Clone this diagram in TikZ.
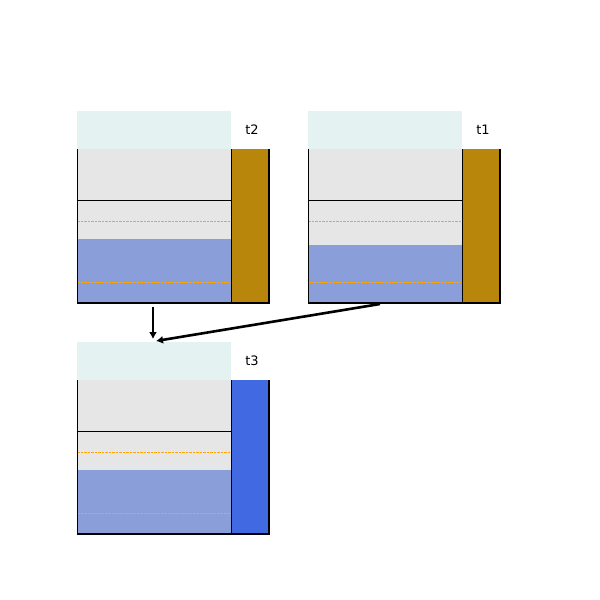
\documentclass[tikz,border=0pt]{standalone}
\usepackage{fontspec}
\setmainfont{DejaVu Sans}
\usetikzlibrary{arrows.meta}
\definecolor{topcyan}{HTML}{E4F2F2}
\definecolor{tankgray}{HTML}{E6E6E6}
\definecolor{water}{HTML}{8A9FD9}
\definecolor{gold}{HTML}{B8860B}
\definecolor{royal}{HTML}{4169E1}
\definecolor{orng}{HTML}{FFA500}
\tikzset{
  lvl/.style={line width=0.7pt, draw=orng, dash pattern=on 2.5pt off 1pt},
  edge/.style={line width=1pt, draw=black},
  flow/.style={line width=2.6pt, -{Latex[length=7pt,width=8pt]}},
  lab/.style={font=\fontsize{13}{15}\selectfont, inner sep=0pt},
}
% #1 x-left, #2 y-top (cyan top), #3 water top, #4 bar colour, #5 label, #6 name
\newcommand\drawtank[6]{%
  \begin{scope}[shift={(#1,#2)}]
    \fill[topcyan] (0,0) rectangle (154,38);
    \fill[tankgray] (0,38) rectangle (154,192);
    \fill[water] (0,#3) rectangle (154,192);
    \fill[#4] (154,38) rectangle (192,192);
    \draw[line width=0.8pt] (0,89) -- (154,89);
    \draw[lvl] (0,110) -- (154,110);
    \draw[lvl] (0,171) -- (154,171);
    \draw[edge] (0,38) -- (0,192);
    \draw[edge] (154,38) -- (154,192);
    \draw[line width=2.5pt] (192,38) -- (192,193);
    \draw[line width=1.5pt] (0,192) -- (193,192);
    \node[lab] (#6) at (175,19) {#5};
  \end{scope}}
\begin{document}
\begin{tikzpicture}[x=1pt,y=-1pt]
  \useasboundingbox (0,0) rectangle (600,600);
  \drawtank{77}{111}{128}{gold}{t2}{lt2}
  \drawtank{308}{111}{134}{gold}{t1}{lt1}
  \drawtank{77}{342}{128}{royal}{t3}{lt3}
  \coordinate (a1s) at (153,307);
  \coordinate (a1e) at (153,339);
  \coordinate (a2s) at (380,304);
  \coordinate (a2e) at (156,341);
  \draw[flow] (a1s) -- (a1e);
  \draw[flow] (a2s) -- (a2e);
\end{tikzpicture}
\end{document}
